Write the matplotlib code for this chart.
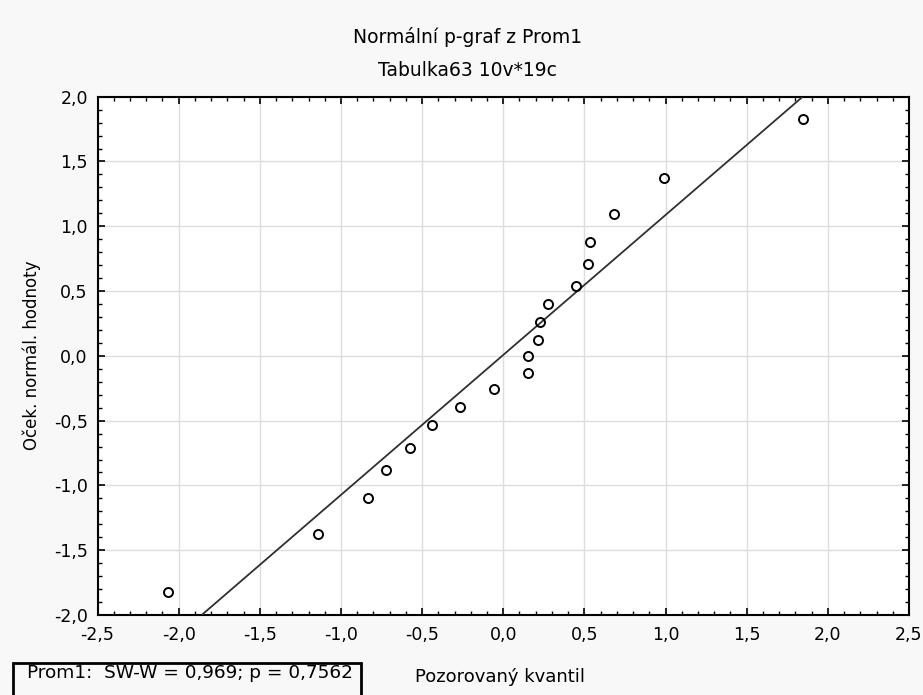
import numpy as np
import matplotlib.pyplot as plt
from matplotlib.ticker import MultipleLocator, FuncFormatter
from matplotlib.patches import Rectangle

plt.rcParams['font.family'] = ['DejaVu Sans']
FS = 12.5

# pozorovany kvantil (x) a ocekavane normalni hodnoty (y)
x_obs = [-2.068, -1.144, -0.836, -0.725, -0.575, -0.439, -0.267, -0.057,
         0.152, 0.152, 0.214, 0.226, 0.275, 0.448, 0.524, 0.536, 0.682,
         0.992, 1.845]
y_exp = [-1.825, -1.373, -1.095, -0.879, -0.709, -0.537, -0.398, -0.259,
         -0.135, 0.001, 0.122, 0.261, 0.402, 0.541, 0.711, 0.880, 1.097,
         1.374, 1.825]

# prolozena primka
line_intercept = 0.007
line_slope = 1.080

title1 = 'Normální p-graf z Prom1'
title2 = 'Tabulka63 10v*19c'
stat_text = 'Prom1:  SW-W = 0,969; p = 0,7562'

fig = plt.figure(figsize=(9.23, 6.95), dpi=100, facecolor='#f8f8f8')
ax = fig.add_axes([0.1057, 0.1151, 0.8791, 0.7458])
ax.set_facecolor('white')

ax.set_xlim(-2.5, 2.5)
ax.set_ylim(-2.0, 2.0)

xl = np.array(ax.get_xlim())
ax.plot(xl, line_intercept + line_slope * xl, color='#303030', lw=1.3, zorder=3)
ax.plot(x_obs, y_exp, 'o', mfc='none', mec='black', ms=6.5, mew=1.4,
        zorder=4, clip_on=False)

ax.xaxis.set_major_locator(MultipleLocator(0.5))
ax.yaxis.set_major_locator(MultipleLocator(0.5))
ax.xaxis.set_minor_locator(MultipleLocator(0.1))
ax.yaxis.set_minor_locator(MultipleLocator(0.1))
fmt = FuncFormatter(lambda v, p: ('%.1f' % v).replace('.', ','))
ax.xaxis.set_major_formatter(fmt)
ax.yaxis.set_major_formatter(fmt)

ax.tick_params(which='both', direction='in', top=True, right=True,
               labelsize=FS, color='black')
ax.tick_params(axis='x', which='major', length=5, width=1.2, pad=8)
ax.tick_params(axis='y', which='major', length=5, width=1.2, pad=7)
ax.tick_params(which='minor', length=3, width=1.0)

ax.grid(True, which='major', color='#dddddd', lw=1.0)
ax.set_axisbelow(True)
for s in ax.spines.values():
    s.set_color('black')
    s.set_linewidth(1.5)

fig.text(0.5065, 0.947, title1, ha='center', va='center', fontsize=13.5)
fig.text(0.5065, 0.899, title2, ha='center', va='center', fontsize=13.5)
fig.text(0.0347, 0.489, 'Oček. normál. hodnoty', rotation=90,
         ha='center', va='center', fontsize=12)
fig.text(0.4496, 0.026, 'Pozorovaný kvantil', ha='left', va='center',
         fontsize=13)

fig.patches.append(Rectangle((0.0141, -0.01), 0.377, 0.056,
                             transform=fig.transFigure, fill=False,
                             edgecolor='black', lw=2.0))
fig.text(0.029, 0.0317, stat_text, ha='left', va='center', fontsize=13.3)

fig.savefig('out.png', dpi=100, facecolor=fig.get_facecolor())
